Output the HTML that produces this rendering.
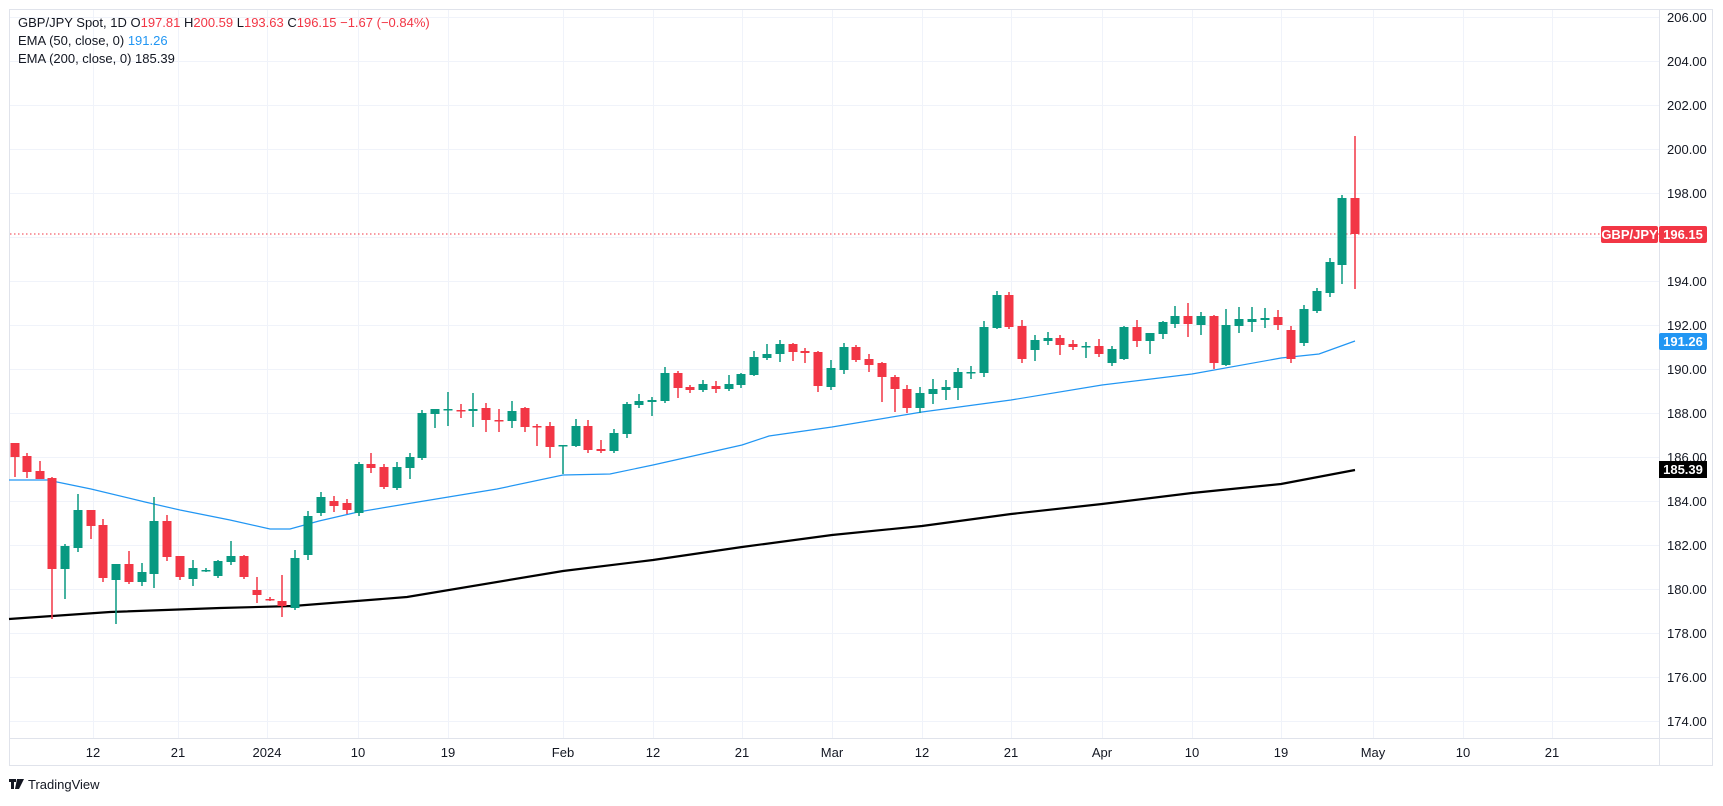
<!DOCTYPE html>
<html><head><meta charset="utf-8">
<style>
html,body{margin:0;padding:0;background:#fff;}
body{width:1723px;height:801px;overflow:hidden;font-family:"Liberation Sans",sans-serif;}
svg text{font-family:"Liberation Sans",sans-serif;}
</style></head>
<body>
<svg id="s" width="1723" height="801" viewBox="0 0 1723 801" xmlns="http://www.w3.org/2000/svg">
<rect x="0" y="0" width="1723" height="801" fill="#fff"/>
<g id="grid" stroke="#f0f3fa" stroke-width="1"></g>
<rect x="9.5" y="9.5" width="1703" height="756" fill="none" stroke="#e0e3eb"/>
<line x1="9" y1="738.5" x2="1713" y2="738.5" stroke="#e0e3eb"/>
<line x1="1659.5" y1="9" x2="1659.5" y2="766" stroke="#e0e3eb"/>
<line x1="10" y1="234" x2="1659" y2="234" stroke="#f23645" stroke-width="1" stroke-dasharray="1.5,2.5"/>
<polyline fill="none" stroke="#2196f3" stroke-width="1.2" points="9,480 49,480 57,482 91,489 145,502 180,510 230,520 270,529 290,529 319,521 358,512 418,502 497,489 563,475 610,474 653,465 742,445 769,436 832,427 922,412 1011,400 1102,385 1192,374 1281,358 1319,354 1355,341"/>
<polyline fill="none" stroke="#000" stroke-width="2.2" points="9,619 110,612 220,608 293,606 407,597 563,571 653,560 742,547 832,535 922,526 1011,514 1102,504 1192,493 1281,484 1355,470"/>
<g id="candles"></g>
<g id="ylab" font-size="13" fill="#131722"></g>
<g id="xlab" font-size="13" fill="#131722" text-anchor="middle"></g>
<!-- price labels -->
<rect x="1601" y="226" width="57" height="17" rx="2" fill="#f23645"/>
<text x="1629.5" y="239" font-size="13" fill="#fff" text-anchor="middle" font-weight="bold">GBP/JPY</text>
<rect x="1659" y="226" width="48" height="17" rx="2" fill="#f23645"/>
<text x="1683" y="239" font-size="13" fill="#fff" text-anchor="middle" font-weight="bold">196.15</text>
<rect x="1659" y="333" width="48" height="17" rx="2" fill="#2196f3"/>
<text x="1683" y="346" font-size="13" fill="#fff" text-anchor="middle" font-weight="bold">191.26</text>
<rect x="1659" y="461" width="48" height="17" fill="#000"/>
<text x="1683" y="474" font-size="13" fill="#fff" text-anchor="middle" font-weight="bold">185.39</text>
<!-- header -->
<text x="18" y="27" font-size="13" fill="#131722">GBP/JPY Spot, 1D  O<tspan fill="#f23645">197.81</tspan>  H<tspan fill="#f23645">200.59</tspan>  L<tspan fill="#f23645">193.63</tspan>  C<tspan fill="#f23645">196.15  −1.67 (−0.84%)</tspan></text>
<text x="18" y="45" font-size="13" fill="#131722">EMA (50, close, 0)  <tspan fill="#2196f3">191.26</tspan></text>
<text x="18" y="63" font-size="13" fill="#131722">EMA (200, close, 0)  185.39</text>
<!-- logo -->
<g fill="#131722">
<rect x="9" y="779" width="7" height="3"/><rect x="11" y="779" width="3" height="10"/>
<path d="M17 779 h3 l-2 10 h-3 z"/><path d="M20 779 h4 l-5 10 h-2 z"/>
</g>
<text x="28" y="789" font-size="13" fill="#131722">TradingView</text>
</svg>
<script>
const NS="http://www.w3.org/2000/svg";
function el(p,t,a,txt){const e=document.createElementNS(NS,t);for(const k in a)e.setAttribute(k,a[k]);if(txt!==undefined)e.textContent=txt;p.appendChild(e);return e;}
const grid=document.getElementById('grid');
const xs=[[93,'12'],[178,'21'],[267,'2024'],[358,'10'],[448,'19'],[563,'Feb'],[653,'12'],[742,'21'],[832,'Mar'],[922,'12'],[1011,'21'],[1102,'Apr'],[1192,'10'],[1281,'19'],[1373,'May'],[1463,'10'],[1552,'21']];
for(let k=0;k<=16;k++){const y=17+k*44+0.5;el(grid,'line',{x1:10,y1:y,x2:1659,y2:y});
 el(document.getElementById('ylab'),'text',{x:1667,y:y+4.5},(206-2*k).toFixed(2));}
xs.forEach(([x,t])=>{el(grid,'line',{x1:x+0.5,y1:10,x2:x+0.5,y2:738});
 el(document.getElementById('xlab'),'text',{x:x,y:757},t);});
const C=[
[15,443,477,443,457,'r'],[27,453,478,456,472,'r'],[40,461,479,471,479,'r'],[52,477,619,478,569,'r'],
[65,544,599,546,569,'g'],[78,494,552,510,548,'g'],[91,510,539,510,526,'r'],[103,519,582,525,578,'r'],
[116,564,624,564,580,'g'],[129,551,584,564,582,'r'],[142,563,586,572,582,'g'],[154,497,588,521,574,'g'],
[167,515,561,521,557,'r'],[180,556,580,556,577,'r'],[193,560,586,568,579,'g'],[206,568,572,570,571,'g'],
[218,560,578,561,576,'g'],[231,541,565,556,562,'g'],[244,555,579,556,577,'r'],[257,577,603,590,595,'r'],
[270,597,601,599,600,'r'],[282,575,617,601,606,'r'],[295,550,610,558,608,'g'],[308,511,560,516,555,'g'],
[321,492,516,497,513,'g'],[334,496,512,501,506,'r'],[347,499,514,503,510,'r'],[359,462,516,464,513,'g'],
[371,453,473,464,468,'r'],[384,464,489,467,487,'r'],[397,462,490,467,488,'g'],[410,453,479,457,468,'g'],
[422,410,460,413,458,'g'],[435,409,428,409,414,'g'],[448,392,426,409,410,'g'],[461,404,418,410,411,'r'],
[473,393,427,409,411,'g'],[486,403,432,408,420,'r'],[499,409,432,420,421,'r'],[512,401,428,411,421,'g'],
[525,407,432,408,427,'r'],[537,424,446,426,427,'r'],[550,422,458,426,447,'r'],[563,445,474,445,446,'g'],
[576,419,447,426,446,'g'],[588,420,453,426,450,'r'],[601,440,453,449,451,'r'],[614,429,453,433,451,'g'],
[627,402,438,404,434,'g'],[639,394,408,401,405,'g'],[652,397,416,400,402,'g'],[665,367,403,373,401,'g'],
[678,371,398,373,388,'r'],[690,385,393,387,390,'r'],[703,380,392,384,390,'g'],[716,381,393,386,389,'r'],
[729,375,391,384,389,'g'],[741,373,388,374,385,'g'],[754,351,376,357,375,'g'],[767,344,360,354,358,'g'],
[780,340,362,344,354,'g'],[793,343,361,344,352,'r'],[805,348,363,351,353,'r'],[818,351,392,352,386,'r'],
[831,360,390,368,387,'g'],[844,343,374,347,370,'g'],[856,345,362,347,360,'r'],[869,354,372,359,365,'r'],
[882,362,402,363,377,'r'],[895,375,412,377,389,'r'],[907,385,413,389,408,'r'],[920,387,413,393,408,'g'],
[933,379,404,389,394,'g'],[946,380,400,387,390,'g'],[958,368,400,372,388,'g'],[971,366,379,372,373,'g'],
[984,321,377,327,373,'g'],[997,291,329,295,328,'g'],[1009,292,329,295,327,'r'],[1022,320,363,326,359,'r'],
[1035,335,361,340,350,'g'],[1048,332,345,338,341,'g'],[1060,335,355,338,345,'r'],[1073,340,350,344,347,'r'],
[1086,342,358,346,347,'g'],[1099,339,357,346,354,'r'],[1112,346,366,349,363,'g'],[1124,326,360,327,359,'g'],
[1137,320,347,327,341,'r'],[1150,333,354,333,341,'g'],[1163,321,339,322,334,'g'],[1175,306,328,316,324,'g'],
[1188,303,337,316,324,'r'],[1201,312,335,316,325,'g'],[1214,315,369,316,363,'r'],[1226,309,366,325,365,'g'],
[1239,307,333,319,326,'g'],[1252,307,332,319,322,'g'],[1265,308,328,318,320,'g'],[1278,310,330,317,325,'r'],
[1291,326,363,330,359,'r'],[1304,305,346,309,343,'g'],[1317,288,313,291,311,'g'],[1330,258,297,262,293,'g'],
[1342,195,284,198,265,'g'],[1355,136,289,198,234,'r']];
const cg=document.getElementById('candles');
C.forEach(([x,wt,wb,bt,bb,c])=>{const col=c==='g'?'#089981':'#f23645';
 el(cg,'rect',{x:x-0.75,y:wt,width:1.5,height:wb-wt,fill:col});
 el(cg,'rect',{x:x-4.5,y:bt,width:9,height:Math.max(1.5,bb-bt),fill:col});});
</script>
</body></html>
